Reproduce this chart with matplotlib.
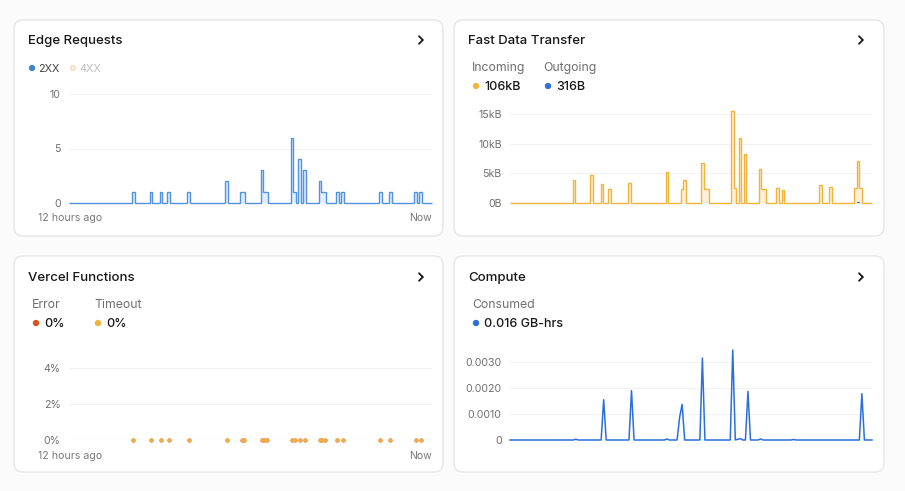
import numpy as np
import matplotlib
matplotlib.use("Agg")
import matplotlib.pyplot as plt
from matplotlib.patches import FancyBboxPatch, Circle
from matplotlib.transforms import IdentityTransform
from matplotlib.lines import Line2D

plt.rcParams['font.family'] = ['Inter', 'DejaVu Sans']

# ---------------- data ----------------
N_BINS = 144  # 5-minute bins over 12 hours
x_labels = ["12 hours ago", "Now"]

# Edge requests (2XX) – non-zero bins
req_bins = [25, 32, 36, 39, 47, 62, 68, 69, 76, 77, 78, 88, 89, 91, 93, 99, 100, 101, 106, 108, 123, 127, 137, 139]
req_2xx = [1, 1, 1, 1, 1, 2, 1, 1, 3, 1, 1, 6, 1, 4, 3, 2, 1, 1, 1, 1, 1, 1, 1, 1]
req_ticks = [0, 5, 10]

# Fast data transfer (kB)
in_bins = [25, 32, 36, 39, 47, 62, 68, 69, 76, 77, 78, 88, 89, 91, 93, 99, 100, 101, 106, 108, 123, 127, 137, 138, 139]
in_kb = [3.8, 4.8, 3.2, 2.4, 3.3, 5.3, 2.3, 3.8, 6.7, 2.3, 2.3, 15.5, 2.5, 11.0, 8.3, 5.8, 2.4, 2.4, 2.5, 2.2, 3.1, 2.7, 2.5, 7.1, 2.5]
out_bins = [36, 68, 69, 77, 78, 89, 101, 138, 139]
out_kb = [0.02, 0.02, 0.02, 0.02, 0.02, 0.02, 0.02, 0.2, 0.02]
fdt_ticks = [0, 5, 10, 15]
fdt_tick_labels = ["0B", "5kB", "10kB", "15kB"]

# Vercel functions (%): bins with invocations, timeout / error rate
fn_bins = [25, 32, 36, 39, 47, 62, 68, 69, 76, 77, 78, 88, 89, 91, 93, 99, 100, 101, 106, 108, 123, 127, 137, 139]
fn_timeout = [0] * len(fn_bins)
fn_error = [0] * len(fn_bins)
fn_ticks = [0, 2, 4]
fn_tick_labels = ["0%", "2%", "4%"]

# Compute (GB-hrs)
cmp_bins = [26, 36, 37, 38, 47, 48, 49, 62, 66, 67, 68, 69, 75, 76, 77, 87, 88, 89, 90, 91, 92, 93, 94, 99, 112, 138, 139, 140]
cmp_val = [0.00003, 0.0, 0.00155, 0.0, 0.0, 0.0019, 0.0, 0.00004, 0.0, 0.00087, 0.00137, 0.0, 0.0, 0.00315, 0.0,
           0.0, 0.00346, 0.0, 0.00003, 0.00005, 0.0, 0.0, 0.00187, 0.00004, 0.00002, 0.0, 0.00178, 0.0]
cmp_ticks = [0, 0.001, 0.002, 0.003]
cmp_tick_labels = ["0", "0.0010", "0.0020", "0.0030"]

# ---------------- figure ----------------
W, H = 905, 491
fig = plt.figure(figsize=(W / 100, H / 100), dpi=100)
fig.patch.set_facecolor('#fbfbfb')

TXT = '#171717'
GRAY = '#6f6f6f'
GRID = '#f1f1f1'
BLUE = '#4f93e2'
BLUE_FILL = '#e2ecfa'
ORANGE = '#f0b43a'
ORANGE_FILL = '#fcf0da'
DBLUE = '#2b6fdc'


def card(x0, y0, x1, y1):
    p = FancyBboxPatch((x0, H - y1), x1 - x0, y1 - y0,
                       boxstyle="round,pad=0,rounding_size=9",
                       transform=IdentityTransform(), facecolor='white',
                       edgecolor='#e4e4e4', linewidth=0.9, zorder=0)
    fig.add_artist(p)


def ftext(x, y, s, **kw):
    kw.setdefault('va', 'center')
    return fig.text(x / W, 1 - y / H, s, **kw)


def chevron(x, y):
    ln = Line2D([x - 2, x + 1.8, x - 2], [H - y + 3.8, H - y, H - y - 3.8],
                transform=IdentityTransform(), color=TXT, lw=1.3,
                solid_capstyle='round', solid_joinstyle='miter')
    fig.add_artist(ln)


def dot(x, y, color, hollow=False, r=2.6):
    c = Circle((x, H - y), r, transform=IdentityTransform(),
               facecolor='none' if hollow else color, edgecolor=color, lw=0.8)
    fig.add_artist(c)


def add_ax(x0, y0, x1, y1):
    ax = fig.add_axes([x0 / W, 1 - y1 / H, (x1 - x0) / W, (y1 - y0) / H])
    ax.set_facecolor('none')
    for s in ax.spines.values():
        s.set_visible(False)
    ax.tick_params(length=0, labelsize=7.6, labelcolor=GRAY, pad=6)
    ax.set_xticks([])
    ax.grid(axis='y', color=GRID, lw=0.8)
    ax.set_axisbelow(True)
    return ax


card(14, 20, 443, 236)
card(454, 20, 884, 236)
card(14, 256, 443, 472)
card(454, 256, 884, 472)

# titles
for x, y, t in [(28, 41, "Edge Requests"), (468, 41, "Fast Data Transfer"),
                (28, 278, "Vercel Functions"), (468, 278, "Compute")]:
    ftext(x, y, t, fontsize=9.5, fontweight='medium', color=TXT)
for x, y in [(421, 40), (861, 40), (421, 277), (861, 277)]:
    chevron(x, y)

edges = np.arange(N_BINS + 1)

# ---- Edge requests ----
dot(32, 68, '#3a86d0')
ftext(38, 69, "2XX", fontsize=7.8, color='#444444')
dot(73, 68, '#f3cc97', hollow=True, r=2.2)
ftext(79, 69, "4XX", fontsize=7.8, color='#bdbdbd')

req = np.zeros(N_BINS)
req[req_bins] = req_2xx
ax1 = add_ax(69, 94, 432, 203)
ax1.stairs(req, edges, fill=True, color=BLUE_FILL, baseline=0, zorder=2)
ax1.stairs(req, edges, color=BLUE, lw=1.0, baseline=0, zorder=3, clip_on=False)
ax1.set_xlim(0, N_BINS)
ax1.set_ylim(0, 10)
ax1.set_yticks(req_ticks)
ax1.set_yticklabels([str(t) for t in req_ticks])
ftext(38, 218, x_labels[0], fontsize=7.6, color='#7a7a7a')
ftext(432, 218, x_labels[1], fontsize=7.6, color='#7a7a7a', ha='right')

# ---- Fast data transfer ----
ftext(472, 67.5, "Incoming", fontsize=8.8, color=GRAY)
ftext(543, 67.5, "Outgoing", fontsize=8.8, color=GRAY)
dot(476, 86, ORANGE)
ftext(484, 87, "106kB", fontsize=9, color=TXT, fontweight='medium')
dot(548, 86, DBLUE)
ftext(556, 87, "316B", fontsize=9, color=TXT, fontweight='medium')

inc = np.zeros(N_BINS)
inc[in_bins] = in_kb
ax2 = add_ax(510, 114, 872, 203)
ax2.stairs(inc, edges, fill=True, color=ORANGE_FILL, baseline=0, zorder=2, clip_on=False)
ax2.stairs(inc, edges, color=ORANGE, lw=1.0, baseline=0, zorder=3, clip_on=False)
ax2.bar(out_bins, out_kb, width=1, align='edge', color=DBLUE, edgecolor=DBLUE, lw=0.8, zorder=4)
ax2.set_xlim(0, N_BINS)
ax2.set_ylim(0, 15)
ax2.set_yticks(fdt_ticks)
ax2.set_yticklabels(fdt_tick_labels)

# ---- Vercel functions ----
ftext(32, 305.5, "Error", fontsize=8.8, color=GRAY)
ftext(94, 305.5, "Timeout", fontsize=8.8, color=GRAY)
dot(36, 323, '#d9531e')
ftext(44, 324, "0%", fontsize=9, color=TXT, fontweight='medium')
dot(98, 323, ORANGE)
ftext(106, 324, "0%", fontsize=9, color=TXT, fontweight='medium')

t_arr = np.full(N_BINS, np.nan)
t_arr[fn_bins] = fn_timeout
e_arr = np.full(N_BINS, np.nan)
e_arr[fn_bins] = fn_error
xc = np.arange(N_BINS) + 0.5
ax3 = add_ax(69, 368, 432, 440)
ax3.axhline(0, color=GRID, lw=0.8, zorder=1)
ax3.plot(xc, e_arr, color='#d9531e', lw=1.0, marker='o', ms=2.0, zorder=2, clip_on=False)
ax3.plot(xc, t_arr, color='#efae45', lw=1.0, marker='o', ms=2.8, mec='none', zorder=3, clip_on=False)
ax3.set_xlim(0, N_BINS)
ax3.set_ylim(0, 4)
ax3.set_yticks(fn_ticks)
ax3.set_yticklabels(fn_tick_labels)
ftext(38, 456, x_labels[0], fontsize=7.6, color='#7a7a7a')
ftext(432, 456, x_labels[1], fontsize=7.6, color='#7a7a7a', ha='right')

# ---- Compute ----
ftext(472, 305.5, "Consumed", fontsize=8.8, color=GRAY)
dot(476, 323, DBLUE)
ftext(484, 324, "0.016 GB-hrs", fontsize=9, color=TXT, fontweight='medium')

cmp = np.zeros(N_BINS)
cmp[cmp_bins] = cmp_val
ax4 = add_ax(510, 349, 872, 440)
ax4.plot(np.arange(N_BINS), cmp, color=DBLUE, lw=1.1, zorder=3, clip_on=False)
ax4.set_xlim(0, N_BINS - 1)
ax4.set_ylim(0, 0.0035)
ax4.set_yticks(cmp_ticks)
ax4.set_yticklabels(cmp_tick_labels)

fig.savefig("out.png", dpi=100, facecolor=fig.get_facecolor())
